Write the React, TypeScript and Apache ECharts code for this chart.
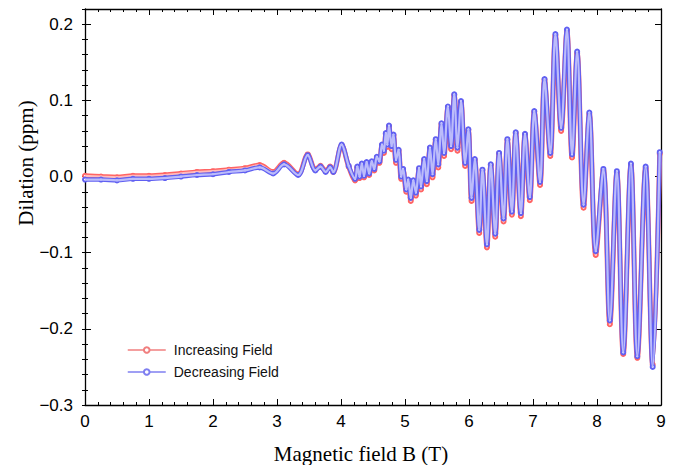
import React, { useEffect, useRef } from 'react';
import * as echarts from 'echarts';

// Magnetic field B (T)
const fieldB = [
  0.0, 0.25, 0.5, 0.75, 1.0, 1.25, 1.5, 1.75, 2.0, 2.25, 2.5, 2.73, 2.94, 3.11, 3.33, 3.48, 3.6, 3.68, 3.76, 3.83, 3.88,
  4.01, 4.12, 4.22, 4.255, 4.29, 4.325, 4.36, 4.4, 4.44, 4.48, 4.52, 4.56, 4.6, 4.64, 4.67, 4.7, 4.725, 4.75, 4.79, 4.82,
  4.86, 4.9, 4.94, 4.97, 5.02, 5.05, 5.09, 5.13, 5.17, 5.22, 5.25, 5.3, 5.34, 5.39, 5.43, 5.48, 5.52, 5.57, 5.61, 5.67,
  5.72, 5.77, 5.82, 5.875, 5.94, 5.99, 6.04, 6.09, 6.16, 6.21, 6.28, 6.34, 6.41, 6.47, 6.54, 6.6, 6.67, 6.73, 6.81, 6.875,
  6.95, 7.02, 7.11, 7.18, 7.27, 7.35, 7.44, 7.53, 7.61, 7.69, 7.79, 7.88, 7.98, 8.1, 8.2, 8.31, 8.41, 8.53, 8.63, 8.76,
  8.87, 8.98,
];

// Dilation (ppm), decreasing field sweep (blue)
const decreasingField = [
  -0.004, -0.004, -0.005, -0.003, -0.003, -0.002, 0.0, 0.002, 0.003, 0.006, 0.008, 0.012, 0.004, 0.016, 0.002, 0.028, 0.008, 0.013, 0.006, 0.012, 0.006,
  0.042, 0.014, -0.003, 0.013, 0.0, 0.017, 0.001, 0.019, 0.004, 0.02, 0.01, 0.026, 0.02, 0.042, 0.034, 0.057, 0.042, 0.067, 0.04, 0.055,
  0.022, 0.035, 0.0, 0.01, -0.017, -0.004, -0.028, -0.005, -0.021, 0.011, -0.013, 0.023, -0.006, 0.038, 0.003, 0.049, 0.016, 0.07, 0.031, 0.092,
  0.04, 0.108, 0.038, 0.099, 0.018, 0.062, -0.028, 0.023, -0.07, 0.009, -0.089, 0.016, -0.075, 0.031, -0.055, 0.049, -0.046, 0.058, -0.048, 0.056,
  -0.027, 0.086, -0.007, 0.128, 0.031, 0.187, 0.064, 0.193, 0.029, 0.164, -0.037, 0.084, -0.098, 0.01, -0.189, 0.007, -0.231, 0.017, -0.236, 0.013,
  -0.25, 0.032,
];

// Dilation (ppm), increasing field sweep (red)
const increasingField = [
  0.001, 0.0, -0.001, 0.001, 0.001, 0.002, 0.004, 0.006, 0.007, 0.009, 0.011, 0.015, 0.006, 0.018, 0.003, 0.029, 0.009, 0.014, 0.007, 0.013, 0.006,
  0.041, 0.013, -0.005, 0.012, -0.002, 0.016, -0.001, 0.018, 0.002, 0.019, 0.008, 0.025, 0.018, 0.041, 0.031, 0.056, 0.039, 0.066, 0.036, 0.054,
  0.018, 0.034, -0.003, 0.009, -0.02, -0.005, -0.032, -0.006, -0.025, 0.01, -0.017, 0.022, -0.01, 0.037, -0.001, 0.048, 0.012, 0.069, 0.027, 0.091,
  0.036, 0.107, 0.034, 0.098, 0.014, 0.061, -0.032, 0.022, -0.074, 0.008, -0.093, 0.015, -0.079, 0.03, -0.059, 0.048, -0.05, 0.057, -0.052, 0.055,
  -0.031, 0.085, -0.011, 0.127, 0.027, 0.185, 0.06, 0.191, 0.025, 0.162, -0.041, 0.082, -0.103, 0.008, -0.194, 0.005, -0.233, 0.015, -0.238, 0.011,
  -0.247, 0.03,
];

const seriesNames = ['Increasing Field', 'Decreasing Field'];

export default function App() {
  const ref = useRef<HTMLDivElement>(null);
  useEffect(() => {
    if (!ref.current) return;
    const chart = echarts.init(ref.current, null, { renderer: 'svg' });
    const inc = fieldB.map((b, i) => [b, increasingField[i]]);
    const dec = fieldB.map((b, i) => [b, decreasingField[i]]);
    const fmtY = (v: number) => {
      const r = Math.round(v * 10) / 10;
      if (Math.abs(v - r) > 1e-6) return '';
      if (r === 0) return '0.0';
      return (r < 0 ? '\u2212' : '') + Math.abs(r).toFixed(1);
    };
    const sans = '"Liberation Sans", Arial, sans-serif';
    const serif = '"Liberation Serif", "Times New Roman", serif';
    const axLine = { show: true, onZero: false, lineStyle: { color: '#000', width: 1.3 } };
    const xBase = {
      type: 'value', min: 0, max: 9, interval: 1,
      axisLine: axLine,
      axisTick: { show: true, inside: true, length: 6, lineStyle: { color: '#000', width: 1 } },
      minorTick: { show: true, splitNumber: 5, length: 3, lineStyle: { color: '#000', width: 1 } },
      splitLine: { show: false },
    };
    const yMajor = {
      type: 'value', min: -0.3, max: 0.22, interval: 0.1,
      axisLine: axLine,
      axisTick: { show: true, inside: true, length: 6, lineStyle: { color: '#000', width: 1 } },
      splitLine: { show: false },
    };
    const yMinor = {
      type: 'value', min: -0.3, max: 0.22, interval: 0.02,
      axisLine: { show: false },
      axisTick: { show: true, inside: true, length: 3, lineStyle: { color: '#000', width: 1 } },
      axisLabel: { show: false },
      splitLine: { show: false },
    };
    chart.setOption({
      animation: false,
      backgroundColor: '#fff',
      grid: { left: 85, right: 14, top: 9, bottom: 60, containLabel: false },
      xAxis: [
        { ...xBase, position: 'bottom', axisLabel: { show: true, fontSize: 17, color: '#000', fontFamily: sans, margin: 8 } },
        { ...xBase, position: 'top', axisLabel: { show: false } },
      ],
      yAxis: [
        { ...yMajor, position: 'left', axisLabel: { show: true, fontSize: 17, color: '#000', fontFamily: sans, margin: 12, formatter: fmtY } },
        { ...yMinor, position: 'left' },
        { ...yMajor, position: 'right', axisLabel: { show: false } },
        { ...yMinor, position: 'right' },
      ],
      legend: {
        orient: 'vertical', left: 122, top: 338, itemWidth: 38, itemHeight: 7, itemGap: 8,
        textStyle: { fontSize: 14, color: '#111', fontFamily: sans, padding: [0, 0, 0, 3] },
        data: [
          { name: seriesNames[0], lineStyle: { color: '#f07f7f', width: 1.5 }, itemStyle: { color: '#f07f7f', borderColor: '#f07f7f', borderWidth: 1 } },
          { name: seriesNames[1], lineStyle: { color: '#7f7ff0', width: 1.5 }, itemStyle: { color: '#7f7ff0', borderColor: '#7f7ff0', borderWidth: 1 } },
        ],
      },
      graphic: [
        { type: 'text', x: 26, y: 163, rotation: Math.PI / 2, style: { text: 'Dilation (ppm)', font: `21px ${serif}`, fill: '#000', textAlign: 'center', textVerticalAlign: 'middle' } },
        { type: 'text', x: 361, y: 454, style: { text: 'Magnetic field B (T)', font: `21px ${serif}`, fill: '#000', textAlign: 'center', textVerticalAlign: 'middle' } },
      ],
      series: [
        {
          name: seriesNames[0], type: 'line', data: inc, smooth: 0.35, symbol: 'emptyCircle', symbolSize: 4, showSymbol: true,
          lineStyle: { color: '#ff6464', width: 5 }, itemStyle: { color: '#ff6464' }, z: 2,
        },
        {
          name: 'inc-core', type: 'line', data: inc, smooth: 0.35, symbol: 'none', silent: true,
          lineStyle: { color: '#ffbcbc', width: 2.2 }, z: 3,
        },
        {
          name: seriesNames[1], type: 'line', data: dec, smooth: 0.35, symbol: 'emptyCircle', symbolSize: 4, showSymbol: true,
          lineStyle: { color: '#6060f2', width: 4.5 }, itemStyle: { color: '#6060f2' }, z: 4,
        },
        {
          name: 'dec-core', type: 'line', data: dec, smooth: 0.35, symbol: 'none', silent: true,
          lineStyle: { color: '#bcbcfa', width: 2.2 }, z: 5,
        },
      ],
    });
    return () => chart.dispose();
  }, []);
  return <div ref={ref} style={{ position: 'absolute', left: 0, top: 0, width: 675, height: 465 }} />;
}
